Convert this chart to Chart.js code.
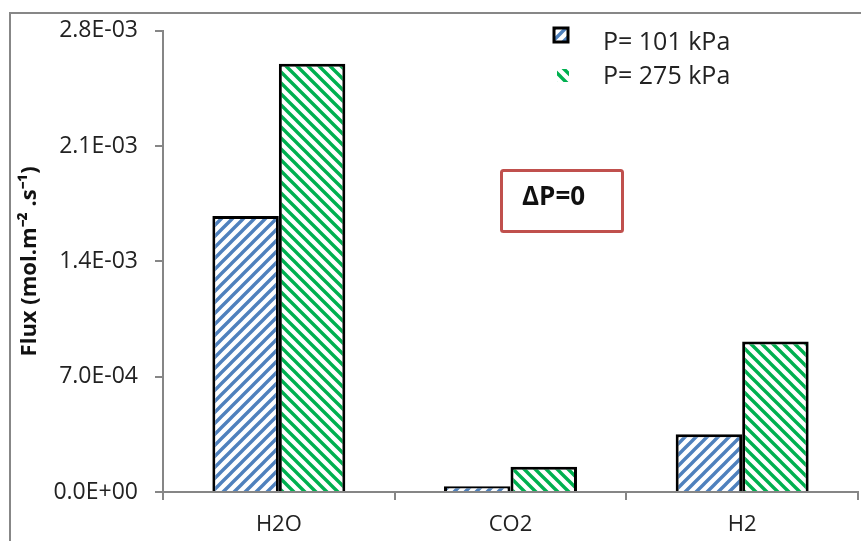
<!DOCTYPE html>
<html>
<head>
<meta charset="utf-8">
<script src="https://cdn.jsdelivr.net/npm/chart.js@4/dist/chart.umd.min.js"></script>
<style>
  html, body { margin: 0; padding: 0; background: #fff; }
  #wrap { width: 861px; height: 541px; position: relative; }
</style>
</head>
<body>
<div id="wrap"><canvas id="c" width="861" height="541"></canvas></div>
<script>
// ---- data ----
const categories = ['H2O', 'CO2', 'H2'];
const seriesLabels = ['P= 101 kPa', 'P= 275 kPa'];
const flux101 = [1.675e-3, 3.5e-5, 3.5e-4];
const flux275 = [2.60e-3, 1.53e-4, 9.13e-4];
const yTickValues = [0, 7.0e-4, 1.4e-3, 2.1e-3, 2.8e-3];
const yTickLabels = ['0.0E+00', '7.0E-04', '1.4E-03', '2.1E-03', '2.8E-03'];
const yTitle = 'Flux (mol.m\u207B\u00B2 .s\u207B\u00B9)';
const annotationText = '\u0394P=0';

const FONT = "'Open Sans', sans-serif";

function makeHatch(color, dir) {
  const s = 11;
  const c = document.createElement('canvas');
  c.width = s; c.height = s;
  const g = c.getContext('2d');
  g.fillStyle = '#fff';
  g.fillRect(0, 0, s, s);
  g.strokeStyle = color;
  g.lineWidth = 3.4;
  g.beginPath();
  if (dir === '/') {
    g.moveTo(-s, s); g.lineTo(s, -s);
    g.moveTo(0, 2 * s); g.lineTo(2 * s, 0);
    g.moveTo(-s, 2 * s); g.lineTo(2 * s, -s);
  } else {
    g.moveTo(-s, 0); g.lineTo(s, 2 * s);
    g.moveTo(0, -s); g.lineTo(2 * s, s);
    g.moveTo(-s, -s); g.lineTo(2 * s, 2 * s);
  }
  g.stroke();
  const ctx = document.getElementById('c').getContext('2d');
  return ctx.createPattern(c, 'repeat');
}

const blueHatch = makeHatch('#4f81bd', '/');
const greenHatch = makeHatch('#00b050', '\\');

const decor = {
  id: 'decor',
  beforeDraw(chart) {
    const ctx = chart.ctx;
    ctx.save();
    ctx.strokeStyle = '#878787';
    ctx.lineWidth = 2;
    ctx.strokeRect(10, 13, 900, 600);
    ctx.restore();
  },
  afterDraw(chart) {
    const ctx = chart.ctx;
    ctx.save();
    // legend
    const ds = chart.data.datasets;
    ctx.font = "25px " + FONT;
    ctx.textBaseline = 'middle';
    ctx.textAlign = 'left';
    // item 1
    ctx.fillStyle = ds[0].backgroundColor;
    ctx.fillRect(554, 28, 14, 14);
    ctx.strokeStyle = '#000';
    ctx.lineWidth = 3;
    ctx.strokeRect(554, 28, 14, 14);
    ctx.fillStyle = '#222';
    ctx.fillText(ds[0].label, 603, 43);
    // item 2
    ctx.fillStyle = ds[1].backgroundColor;
    ctx.fillRect(557, 69, 12, 13);
    ctx.fillStyle = '#222';
    ctx.fillText(ds[1].label, 603, 77);
    // annotation box
    ctx.strokeStyle = '#c0504d';
    ctx.lineWidth = 3;
    ctx.beginPath();
    ctx.roundRect(501.5, 170.5, 121, 61, 2);
    ctx.stroke();
    ctx.font = "bold 26px " + FONT;
    ctx.fillStyle = '#111';
    ctx.textAlign = 'left';
    ctx.fillText(annotationText, 522, 198);
    ctx.restore();
  }
};

new Chart(document.getElementById('c'), {
  type: 'bar',
  data: {
    labels: categories,
    datasets: [
      { label: seriesLabels[0], data: flux101, backgroundColor: blueHatch, borderColor: '#000', borderWidth: 3 },
      { label: seriesLabels[1], data: flux275, backgroundColor: greenHatch, borderColor: '#000', borderWidth: 3 }
    ]
  },
  options: {
    responsive: false,
    animation: false,
    devicePixelRatio: 1,
    layout: { padding: { left: 10, top: 29, right: 3, bottom: 0 } },
    plugins: { legend: { display: false }, tooltip: { enabled: false } },
    datasets: { bar: { categoryPercentage: 0.574, barPercentage: 1.0 } },
    scales: {
      x: {
        grid: { display: true, offset: true, drawOnChartArea: false, drawTicks: true, tickLength: 8, color: '#868686', lineWidth: 2 },
        border: { display: true, color: '#868686', width: 2 },
        ticks: { font: { family: FONT, size: 22 }, color: '#222', padding: 12 },
        afterFit(scale) { scale.height = 49; }
      },
      y: {
        min: 0,
        max: 2.8e-3,
        afterBuildTicks(scale) { scale.ticks = yTickValues.map(v => ({ value: v })); },
        grid: { display: true, drawOnChartArea: false, drawTicks: true, tickLength: 8, color: '#868686', lineWidth: 2 },
        border: { display: true, color: '#868686', width: 2 },
        ticks: {
          font: { family: FONT, size: 23 }, color: '#222', padding: 17,
          callback(v) {
            const i = yTickValues.findIndex(t => Math.abs(t - v) < 1e-9);
            return i >= 0 ? yTickLabels[i] : '';
          }
        },
        title: {
          display: true, text: yTitle, color: '#111',
          font: { family: FONT, size: 22, weight: 'bold' },
          padding: { top: 7, bottom: 0 }
        },
        afterFit(scale) { scale.width = 153; }
      }
    }
  },
  plugins: [decor]
});
</script>
</body>
</html>
